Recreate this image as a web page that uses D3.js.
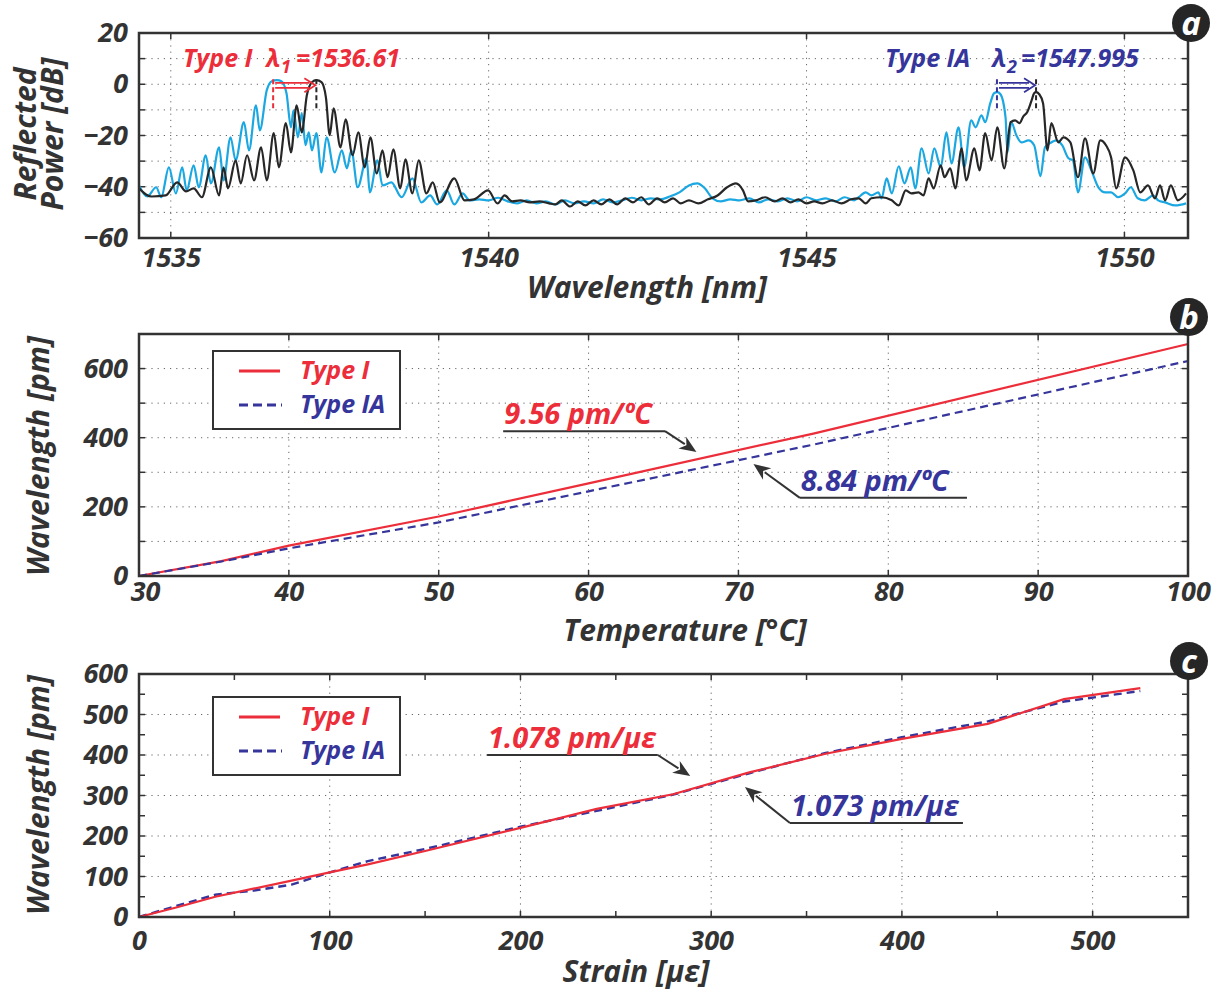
<!DOCTYPE html>
<html>
<head>
<meta charset="utf-8">
<script src="https://cdnjs.cloudflare.com/ajax/libs/d3/7.8.5/d3.min.js"></script>
<style>
  body { margin: 0; background: #fff; }
  svg text { font-family: "Open Sans", "Noto Sans", sans-serif; font-style: italic; font-weight: 700; }
</style>
</head>
<body>
<div id="chart"></div>
<script>
// ---- panel a: reflection spectra, [wavelength nm, power dB]
const cyanLeft = [
  [1534.50,-39.5],[1534.63,-43.8],[1534.77,-40.2],[1534.85,-44.1],[1534.97,-32.4],[1535.08,-42.6],
  [1535.18,-32.4],[1535.25,-41.4],[1535.36,-31.6],[1535.44,-40.2],[1535.55,-27.7],[1535.63,-38.7],
  [1535.76,-24.6],[1535.83,-37.5],[1535.94,-20.7],[1536.02,-29.7],[1536.15,-14.8],[1536.23,-25.8],
  [1536.34,-8.2],[1536.40,-18.0],[1536.51,-2.3],[1536.59,1.2],[1536.67,1.6],[1536.74,1.2],
  [1536.82,-3.5],[1536.89,-16.8],[1536.93,-10.2],[1537.00,-20.7],[1537.06,-11.3],[1537.12,-23.8],
  [1537.17,-18.8],[1537.22,-25.8],[1537.29,-19.1],[1537.37,-34.4],[1537.45,-20.7],[1537.58,-34.4],
  [1537.69,-25.8],[1537.77,-32.8],[1537.84,-25.8],[1537.94,-40.2],[1538.08,-28.9],[1538.13,-42.2],
  [1538.25,-29.7],[1538.33,-39.5],[1538.47,-38.3],[1538.63,-44.1],[1538.80,-36.7],[1538.94,-46.1],
  [1539.08,-43.4],[1539.19,-46.9],[1539.34,-41.4],[1539.46,-46.9],[1539.59,-42.6],[1539.70,-45.3]
];
const cyanMid = [
  [1539.85,-44.9],[1540.00,-45.3],[1540.15,-44.3],[1540.30,-45.7],[1540.45,-46.5],[1540.60,-45.3],
  [1540.75,-46.5],[1540.90,-45.7],[1541.05,-46.9],[1541.20,-45.3],[1541.35,-46.5],[1541.50,-45.7],
  [1541.65,-46.5],[1541.80,-44.9],[1541.95,-46.1],[1542.10,-45.3],[1542.25,-44.3],[1542.40,-45.3],
  [1542.55,-44.5],[1542.70,-44.9],[1542.85,-43.8],[1543.00,-42.2],[1543.15,-39.5],[1543.28,-38.7],
  [1543.40,-40.6],[1543.52,-44.5],[1543.65,-45.7],[1543.80,-44.9],[1543.95,-45.3],[1544.10,-44.5],
  [1544.25,-46.1],[1544.40,-44.9],[1544.55,-45.7],[1544.70,-44.5],[1544.85,-45.7],[1545.00,-44.1],
  [1545.15,-45.3],[1545.30,-44.5],[1545.45,-45.7],[1545.60,-44.1],[1545.75,-45.3]
];
const cyanRight = [
  [1545.82,-44.1],[1545.93,-42.2],[1546.02,-43.4],[1546.13,-42.2],[1546.18,-44.5],[1546.26,-36.7],
  [1546.34,-42.6],[1546.45,-32.0],[1546.54,-38.7],[1546.64,-32.4],[1546.71,-40.6],[1546.81,-25.0],
  [1546.92,-34.8],[1547.01,-25.0],[1547.11,-32.4],[1547.20,-18.8],[1547.28,-30.9],[1547.39,-16.8],
  [1547.48,-32.4],[1547.59,-14.1],[1547.66,-16.8],[1547.75,-12.1],[1547.81,-14.8],[1547.89,-7.4],
  [1547.95,-3.5],[1548.00,-3.1],[1548.05,-3.9],[1548.13,-12.9],[1548.16,-26.6],[1548.22,-14.8],
  [1548.30,-19.9],[1548.38,-22.7],[1548.49,-21.9],[1548.58,-23.8],[1548.68,-35.9],[1548.75,-24.6],
  [1548.83,-23.0],[1548.93,-21.9],[1549.02,-23.8],[1549.12,-28.9],[1549.19,-29.7],[1549.27,-42.2],
  [1549.38,-28.5],[1549.48,-33.6],[1549.59,-40.2],[1549.70,-42.2],[1549.79,-42.2],[1549.90,-44.1],
  [1550.01,-42.6],[1550.10,-40.2],[1550.21,-44.5],[1550.32,-45.3],[1550.45,-43.4],[1550.53,-45.3],
  [1550.64,-46.1],[1550.80,-47.3],[1550.97,-46.5]
];
const blackLeft = [
  [1534.50,-40.6],[1534.61,-43.0],[1534.70,-43.8],[1534.92,-43.4],[1535.10,-38.3],[1535.24,-41.8],
  [1535.36,-40.6],[1535.49,-44.1],[1535.63,-32.4],[1535.76,-43.4],[1535.83,-32.4],[1535.90,-40.6],
  [1536.02,-29.7],[1536.10,-38.7],[1536.20,-27.7],[1536.31,-37.5],[1536.42,-24.6],[1536.51,-37.5],
  [1536.62,-19.1],[1536.70,-32.4],[1536.81,-15.2],[1536.89,-26.6],[1536.98,-8.2],[1537.06,-18.8],
  [1537.14,-4.3],[1537.22,0.8],[1537.29,1.6],[1537.37,0.8],[1537.44,-5.1],[1537.50,-19.9],
  [1537.56,-9.4],[1537.67,-24.6],[1537.75,-13.7],[1537.86,-27.7],[1537.95,-18.8],[1538.05,-32.4],
  [1538.14,-20.7],[1538.24,-34.8],[1538.33,-25.8],[1538.41,-36.3],[1538.50,-25.4],[1538.61,-40.6],
  [1538.69,-29.3],[1538.80,-42.6],[1538.90,-29.7],[1539.02,-42.6],[1539.12,-38.3],[1539.23,-46.1],
  [1539.46,-36.7],[1539.62,-45.3],[1539.77,-44.9],[1539.99,-41.4]
];
const blackMid = [
  [1540.14,-46.5],[1540.25,-43.4],[1540.37,-45.7],[1540.50,-45.3],[1540.65,-46.1],[1540.80,-45.7],
  [1540.95,-46.5],[1541.05,-46.9],[1541.15,-45.3],[1541.28,-47.7],[1541.40,-45.7],[1541.52,-47.3],
  [1541.65,-45.3],[1541.77,-46.9],[1541.90,-44.9],[1542.02,-46.9],[1542.15,-44.5],[1542.27,-46.1],
  [1542.40,-44.1],[1542.52,-46.9],[1542.65,-44.5],[1542.77,-46.1],[1542.90,-44.5],[1543.02,-46.5],
  [1543.15,-45.3],[1543.30,-46.5],[1543.45,-44.9],[1543.60,-43.4],[1543.75,-40.2],[1543.89,-38.7],
  [1544.00,-41.4],[1544.08,-45.7],[1544.20,-45.3],[1544.35,-44.1],[1544.50,-45.7],[1544.62,-44.5],
  [1544.75,-46.1],[1544.87,-44.9],[1545.00,-46.5],[1545.12,-45.7],[1545.25,-46.5],[1545.40,-45.3],
  [1545.55,-46.5],[1545.70,-44.9]
];
const blackRight = [
  [1545.82,-44.5],[1545.93,-46.5],[1546.02,-44.5],[1546.18,-44.1],[1546.34,-45.3],[1546.45,-47.3],
  [1546.56,-41.4],[1546.65,-42.6],[1546.76,-42.2],[1546.84,-43.4],[1546.92,-36.7],[1547.00,-40.6],
  [1547.11,-31.6],[1547.17,-36.3],[1547.26,-32.8],[1547.34,-40.6],[1547.44,-25.0],[1547.51,-37.5],
  [1547.64,-25.0],[1547.72,-33.6],[1547.81,-19.1],[1547.91,-29.7],[1548.00,-16.8],[1548.11,-32.8],
  [1548.21,-14.8],[1548.28,-14.1],[1548.35,-15.2],[1548.41,-12.5],[1548.47,-10.9],[1548.54,-6.3],
  [1548.58,-3.5],[1548.61,-3.1],[1548.66,-3.9],[1548.72,-7.4],[1548.79,-25.8],[1548.85,-15.2],
  [1548.96,-22.7],[1549.04,-20.7],[1549.15,-22.7],[1549.27,-36.3],[1549.38,-21.1],[1549.51,-34.8],
  [1549.62,-21.9],[1549.71,-23.8],[1549.79,-28.5],[1549.87,-40.6],[1550.01,-28.5],[1550.14,-33.6],
  [1550.25,-42.2],[1550.37,-39.5],[1550.48,-44.5],[1550.56,-39.5],[1550.64,-45.3],[1550.73,-39.5],
  [1550.84,-45.3],[1550.97,-42.6]
];
// peak markers: reference peak and shifted peak
const peakTypeI = [1536.61, 1537.29];
const peakTypeIA = [1547.995, 1548.61];

// ---- panel b: temperature response
const temperature = [30, 35.5, 40, 50, 60, 75, 100];
const tempShiftI  = [0, 43, 88, 172, 268, 412, 671];
const tempShiftIA = [0, 42, 80, 155, 245, 380, 622];

// ---- panel c: strain response
const strain      = [0, 20, 40, 60, 80, 100, 120, 150, 200, 240, 280, 320, 360, 400, 445, 485, 525];
const strainShiftI  = [0, 24, 50, 70, 90, 110, 130, 163, 220, 267, 303, 357, 403, 440, 477, 538, 565];
const strainShiftIA = [0, 28, 55, 65, 80, 110, 138, 168, 223, 262, 302, 355, 405, 444, 483, 532, 558];

const RED = "#ec2d3a", NAVY = "#35359b", CYAN = "#1ba7e1", INK = "#272727", AXIS = "#333";

const svg = d3.select("#chart").append("svg")
  .attr("width", 1221)
  .attr("height", 992);

const left = 139, right = 1188;

function frame(x, y, cfg) {
  const g = svg.append("g");
  const [y0, y1] = [y.range()[1], y.range()[0]];
  const grid = "#666";

  g.selectAll(".gx").data(cfg.xGrid).enter().append("line")
    .attr("x1", d => x(d)).attr("x2", d => x(d))
    .attr("y1", y0).attr("y2", y1)
    .attr("stroke", grid).attr("stroke-width", 1).attr("stroke-dasharray", "1.2,5");
  g.selectAll(".gy").data(cfg.yGrid).enter().append("line")
    .attr("x1", left).attr("x2", right)
    .attr("y1", d => y(d)).attr("y2", d => y(d))
    .attr("stroke", grid).attr("stroke-width", 1).attr("stroke-dasharray", "1.2,5");

  // inward ticks on all four sides
  cfg.xTickMarks.forEach(d => {
    g.append("line").attr("x1", x(d)).attr("x2", x(d)).attr("y1", y1).attr("y2", y1 - 6).attr("stroke", AXIS).attr("stroke-width", 1.5);
    g.append("line").attr("x1", x(d)).attr("x2", x(d)).attr("y1", y0).attr("y2", y0 + 6).attr("stroke", AXIS).attr("stroke-width", 1.5);
  });
  cfg.yTickMarks.forEach(d => {
    g.append("line").attr("x1", left).attr("x2", left + 6).attr("y1", y(d)).attr("y2", y(d)).attr("stroke", AXIS).attr("stroke-width", 1.5);
    g.append("line").attr("x1", right).attr("x2", right - 6).attr("y1", y(d)).attr("y2", y(d)).attr("stroke", AXIS).attr("stroke-width", 1.5);
  });

  const xa = g.append("g")
    .attr("transform", `translate(0,${y1})`)
    .call(d3.axisBottom(x).tickValues(cfg.xLabels).tickSize(0).tickPadding(cfg.xPad).tickFormat(d3.format("d")));
  const ya = g.append("g")
    .attr("transform", `translate(${left},0)`)
    .call(d3.axisLeft(y).tickValues(cfg.yLabels).tickSize(0).tickPadding(11).tickFormat(d3.format("d")));
  [xa, ya].forEach(a => {
    a.select(".domain").remove();
    a.selectAll("text").style("font-size", "27px").attr("fill", AXIS)
      .style("font-family", '"Open Sans", sans-serif').style("font-style", "italic").style("font-weight", 700);
  });
  // first x label sits a little right of the corner, clear of the y "0"
  xa.selectAll(".tick text").filter((d, i) => i === 0).attr("dx", cfg.firstShift || 0);

  return g;
}

function box(y, badge, bx, by) {
  const [y0, y1] = [y.range()[1], y.range()[0]];
  svg.append("rect")
    .attr("x", left).attr("y", y0)
    .attr("width", right - left).attr("height", y1 - y0)
    .attr("fill", "none").attr("stroke", AXIS).attr("stroke-width", 2.5);
  svg.append("circle").attr("cx", bx).attr("cy", by).attr("r", 19).attr("fill", "#262626");
  svg.append("text").attr("x", bx).attr("y", by).attr("dy", "0.36em")
    .attr("text-anchor", "middle").attr("fill", "#fff").style("font-size", "33px").text(badge);
}

function yTitle(lines, cx, cy) {
  const t = svg.append("text")
    .attr("transform", `translate(${cx},${cy}) rotate(-90)`)
    .attr("text-anchor", "middle").attr("fill", AXIS).style("font-size", "30px");
  lines.forEach((s, i) => t.append("tspan").attr("x", 0).attr("dy", i === 0 ? 0 : 27).text(s));
}

function xTitle(s, cx, by) {
  svg.append("text").attr("x", cx).attr("y", by)
    .attr("text-anchor", "middle").attr("fill", AXIS).style("font-size", "30px").text(s);
}

// ================= panel a
const xA = d3.scaleLinear().domain([1534.5, 1551]).range([left, right]);
const yA = d3.scaleLinear().domain([-60, 20]).range([238, 33]);

frame(xA, yA, {
  xGrid: [1535, 1540, 1545, 1550], yGrid: [10, 0, -10, -20, -30, -40, -50],
  xTickMarks: [1535, 1540, 1545, 1550], yTickMarks: [10, 0, -10, -20, -30, -40, -50],
  xLabels: [1535, 1540, 1545, 1550], yLabels: [20, 0, -20, -40, -60], xPad: 10
});

const specLine = d3.line().x(d => xA(d[0])).y(d => yA(d[1])).curve(d3.curveMonotoneX);
svg.append("path").datum(cyanLeft.concat(cyanMid, cyanRight))
  .attr("d", specLine).attr("fill", "none").attr("stroke", CYAN).attr("stroke-width", 2.2);
svg.append("path").datum(blackLeft.concat(blackMid, blackRight))
  .attr("d", specLine).attr("fill", "none").attr("stroke", INK).attr("stroke-width", 2.2);

function peakMarker(peaks, color) {
  const [p0, p1] = peaks;
  svg.append("line").attr("x1", xA(p0)).attr("x2", xA(p0)).attr("y1", yA(2)).attr("y2", yA(-10.5))
    .attr("stroke", color).attr("stroke-width", 2).attr("stroke-dasharray", "5,3");
  svg.append("line").attr("x1", xA(p1)).attr("x2", xA(p1)).attr("y1", yA(2)).attr("y2", yA(-9.5))
    .attr("stroke", INK).attr("stroke-width", 2).attr("stroke-dasharray", "5,3");
  const ay = yA(-0.4), a0 = xA(p0) + 2, a1 = xA(p1) - 1;
  svg.append("path")
    .attr("d", `M${a0},${ay - 2.5}H${a1 - 6}M${a0},${ay + 2.5}H${a1 - 6}M${a1 - 11},${ay - 7}L${a1},${ay}L${a1 - 11},${ay + 7}`)
    .attr("fill", "none").attr("stroke", color).attr("stroke-width", 1.8);
}
peakMarker(peakTypeI, RED);
peakMarker(peakTypeIA, NAVY);

function peakLabel(color, xs, sub, value) {
  const t = svg.append("text").attr("y", 67).attr("fill", color).style("font-size", "25px");
  t.append("tspan").attr("x", xs[0]).text(sub === "1" ? "Type I" : "Type IA");
  t.append("tspan").attr("x", xs[1]).text("λ");
  t.append("tspan").attr("x", xs[2]).attr("dy", 6).style("font-size", "18px").text(sub);
  t.append("tspan").attr("x", xs[3]).attr("dy", -6).text("=" + value);
}
peakLabel(RED, [183, 266, 281, 296], "1", "1536.61");
peakLabel(NAVY, [885, 992, 1007, 1021], "2", "1547.995");

box(yA, "a", 1191, 23);
yTitle(["Reflected", "Power [dB]"], 36, 134);
xTitle("Wavelength [nm]", 647, 298);

// ================= legends and slope notes
function legend(y0) {
  const g = svg.append("g");
  g.append("rect").attr("x", 213).attr("y", y0).attr("width", 187).attr("height", 78)
    .attr("fill", "#fff").attr("stroke", AXIS).attr("stroke-width", 2);
  g.append("line").attr("x1", 239).attr("x2", 280).attr("y1", y0 + 20).attr("y2", y0 + 20)
    .attr("stroke", RED).attr("stroke-width", 3);
  g.append("line").attr("x1", 239).attr("x2", 282).attr("y1", y0 + 54).attr("y2", y0 + 54)
    .attr("stroke", NAVY).attr("stroke-width", 3).attr("stroke-dasharray", "9,5");
  g.append("text").attr("x", 300).attr("y", y0 + 28).attr("fill", RED).style("font-size", "25px").text("Type I");
  g.append("text").attr("x", 300).attr("y", y0 + 62).attr("fill", NAVY).style("font-size", "25px").text("Type IA");
}

function slopeNote(x, y, n) {
  const sx = x(n.from), ex = x(n.to), ly = y(n.level);
  const tx = x(n.tip[0]), ty = y(n.tip[1]);
  const ox = n.elbow === "end" ? ex : sx;
  svg.append("path").attr("d", `M${sx},${ly}H${ex}`).attr("stroke", "#333").attr("stroke-width", 2).attr("fill", "none");
  const dx = tx - ox, dy = ty - ly, len = Math.hypot(dx, dy);
  const ux = dx / len, uy = dy / len, hl = 17, hw = 7;
  const bx = tx - ux * hl, by = ty - uy * hl;
  svg.append("path").attr("d", `M${ox},${ly}L${bx + ux * 3},${by + uy * 3}`)
    .attr("stroke", "#333").attr("stroke-width", 2).attr("fill", "none");
  svg.append("path")
    .attr("d", `M${tx},${ty}L${bx - uy * hw},${by + ux * hw}L${bx + ux * 5},${by + uy * 5}L${bx + uy * hw},${by - ux * hw}Z`)
    .attr("fill", "#333");
  svg.append("text").attr("x", sx + 1).attr("y", ly - 7).attr("fill", n.color)
    .style("font-size", "29px").text(n.text);
}

// ================= panel b
const xB = d3.scaleLinear().domain([30, 100]).range([left, right]);
const yB = d3.scaleLinear().domain([0, 700]).range([576, 334]);
frame(xB, yB, {
  xGrid: [40, 50, 60, 70, 80, 90], yGrid: [100, 200, 300, 400, 500, 600],
  xTickMarks: [40, 50, 60, 70, 80, 90], yTickMarks: [100, 200, 300, 400, 500, 600],
  xLabels: [30, 40, 50, 60, 70, 80, 90, 100], yLabels: [0, 200, 400, 600], xPad: 6, firstShift: 6
});
const lineB = d3.line().x(d => xB(d[0])).y(d => yB(d[1]));
svg.append("path").datum(d3.zip(temperature, tempShiftI)).attr("d", lineB)
  .attr("fill", "none").attr("stroke", RED).attr("stroke-width", 2.2);
svg.append("path").datum(d3.zip(temperature, tempShiftIA)).attr("d", lineB)
  .attr("fill", "none").attr("stroke", NAVY).attr("stroke-width", 2.2).attr("stroke-dasharray", "8,5");
legend(351);
slopeNote(xB, yB, { text: "9.56 pm/ºC", color: RED, from: 54.3, to: 65.1, level: 419, tip: [67.2, 359], elbow: "end" });
slopeNote(xB, yB, { text: "8.84 pm/ºC", color: NAVY, from: 74.1, to: 85.25, level: 226, tip: [71.0, 324], elbow: "start" });
box(yB, "b", 1189, 317);
yTitle(["Wavelength [pm]"], 49, 456);
xTitle("Temperature [°C]", 685, 641);

// ================= panel c
const xC = d3.scaleLinear().domain([0, 550]).range([left, right]);
const yC = d3.scaleLinear().domain([0, 600]).range([917, 674]);
frame(xC, yC, {
  xGrid: [100, 200, 300, 400, 500], yGrid: [100, 200, 300, 400, 500],
  xTickMarks: [50, 100, 150, 200, 250, 300, 350, 400, 450, 500],
  yTickMarks: [50, 100, 150, 200, 250, 300, 350, 400, 450, 500, 550],
  xLabels: [0, 100, 200, 300, 400, 500], yLabels: [0, 100, 200, 300, 400, 500, 600], xPad: 14
});
const lineC = d3.line().x(d => xC(d[0])).y(d => yC(d[1]));
svg.append("path").datum(d3.zip(strain, strainShiftIA)).attr("d", lineC)
  .attr("fill", "none").attr("stroke", NAVY).attr("stroke-width", 2.4).attr("stroke-dasharray", "8,5");
svg.append("path").datum(d3.zip(strain, strainShiftI)).attr("d", lineC)
  .attr("fill", "none").attr("stroke", RED).attr("stroke-width", 2.2);
legend(697);
slopeNote(xC, yC, { text: "1.078 pm/με", color: RED, from: 182.5, to: 272, level: 400, tip: [289, 348], elbow: "end" });
slopeNote(xC, yC, { text: "1.073 pm/με", color: NAVY, from: 341.3, to: 432, level: 232, tip: [317.7, 321], elbow: "start" });
box(yC, "c", 1189, 661);
yTitle(["Wavelength [pm]"], 49, 795);
xTitle("Strain [με]", 636, 982);
</script>
</body>
</html>
